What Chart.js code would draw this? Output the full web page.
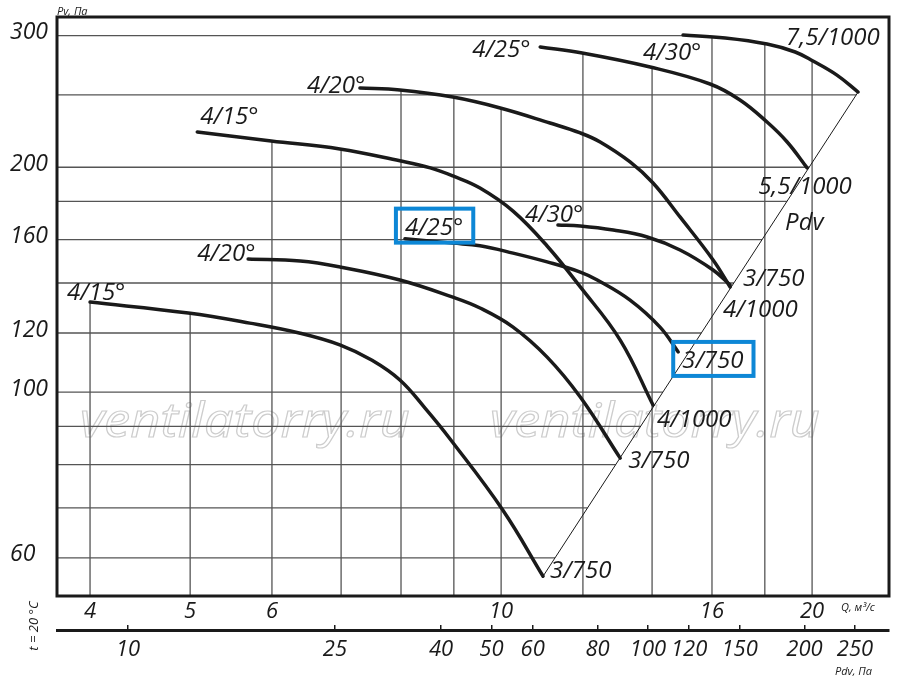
<!DOCTYPE html>
<html>
<head>
<meta charset="utf-8">
<script src="https://cdn.jsdelivr.net/npm/chart.js@4.4.1/dist/chart.umd.min.js"></script>
<style>
    html, body { margin: 0; padding: 0; background: #fff; }
    #wrap { width: 900px; height: 684px; }
</style>
</head>
<body>
<div id="wrap"><canvas id="chart"></canvas></div>
<script>
// Q, м3/с and Pv, Па (left to right)
const q15low = [4.00, 4.98, 5.71, 6.39, 6.99, 7.50, 7.98, 8.44, 8.94, 10.04, 10.98];
const p15low = [132.0, 127.6, 123.7, 119.9, 115.6, 110.3, 103.8, 95.2, 86.3, 69.5, 56.7];
const q20low = [5.69, 6.39, 6.98, 7.98, 8.98, 9.54, 10.27, 11.08, 11.93, 13.04];
const p20low = [150.7, 149.8, 147.1, 141.3, 134.0, 129.6, 122.2, 111.4, 98.5, 81.6];
const q25low = [8.07, 8.98, 9.54, 10.27, 11.08, 11.93, 12.39, 13.33, 14.25, 14.84];
const p25low = [160.5, 158.3, 157.0, 153.5, 149.4, 144.8, 141.3, 132.8, 122.2, 113.2];
const q30low = [11.35, 11.93, 12.84, 13.85, 14.90, 16.04, 16.66];
const p30low = [167.4, 166.9, 164.8, 161.3, 155.0, 145.7, 139.1];
const q15up = [5.08, 5.99, 6.98, 7.98, 8.54, 8.98, 9.54, 10.27, 11.08, 11.93, 13.04, 14.03];
const p15up = [223.0, 216.9, 211.6, 204.0, 199.6, 194.7, 187.6, 174.7, 156.9, 138.3, 117.4, 96.1];
const q20up = [7.30, 7.98, 8.98, 9.98, 11.15, 11.93, 12.47, 13.33, 14.03, 14.90, 16.04, 16.66];
const p20up = [255.3, 253.8, 248.3, 240.1, 229.2, 222.3, 216.2, 203.3, 190.5, 171.6, 150.3, 138.3];
const q25up = [10.91, 11.98, 13.94, 15.93, 17.03, 18.09, 18.92, 19.78];
const p25up = [289.7, 284.4, 272.4, 258.5, 246.1, 229.9, 216.2, 199.6];
const q30up = [15.00, 16.48, 18.09, 19.26, 20.04, 21.14, 22.16];
const p30up = [300.6, 297.9, 292.4, 285.3, 277.5, 265.7, 252.2];
// dynamic pressure line Pdv
const qPdv = [10.98, 22.16];
const pPdv = [56.7, 252.2];

// axis ticks
const qTicks = [4, 5, 6, 10, 16, 20];
const pTicks = [60, 100, 120, 160, 200, 300];
const pdvTicks = [10, 25, 40, 50, 60, 80, 100, 120, 150, 200, 250];

// grid: vertical lines start at the upper envelope, horizontal lines stop at Pdv
const gridQ = [4, 5, 6, 7, 8, 9, 10, 12, 14, 16, 18, 20];
const gridQTop = [132.0, 127.6, 216.9, 212.0, 253.8, 248.3, 240.1, 284.4, 272.4, 298.5, 292.6, 277.0];
const gridP = [300, 250, 200, 180, 160, 140, 120, 100, 90, 80, 70, 60];

const Q_MIN = 3.716, Q_MAX = 23.74;
const P_MIN = 53.35, P_MAX = 317.8;
const PDV_MIN = 7.302, PDV_MAX = 290.7;

const FONT = '"Open Sans", "Liberation Sans", sans-serif';
const INK = '#1a1a1a';

function pts(qs, ps) {
    return qs.map((q, i) => ({ x: q, y: ps[i] }));
}

// Q where the Pdv line reaches pressure p (straight line on log-log)
function pdvQAt(p) {
    const k = (Math.log10(pPdv[1]) - Math.log10(pPdv[0])) / (Math.log10(qPdv[1]) - Math.log10(qPdv[0]));
    return Math.pow(10, Math.log10(qPdv[0]) + (Math.log10(p) - Math.log10(pPdv[0])) / k);
}

const curves = [
    pts(q15low, p15low), pts(q20low, p20low), pts(q25low, p25low), pts(q30low, p30low),
    pts(q15up, p15up), pts(q20up, p20up), pts(q25up, p25up), pts(q30up, p30up),
    pts(qPdv, pPdv)
];

// [text, curve, end, dx, dy, boxed]
const notes = [
    ['4/15°', 0, 'start', -23, -2],
    ['4/20°', 1, 'start', -51, 2],
    ['4/25°', 2, 'start', 0, -4, true],
    ['4/30°', 3, 'start', -33, -3],
    ['4/15°', 4, 'start', 3, -8],
    ['4/20°', 5, 'start', -53, 5],
    ['4/25°', 6, 'start', -68, 10],
    ['4/30°', 7, 'start', -40, 25],
    ['7,5/1000', 7, 'end', -72, -47],
    ['5,5/1000', 6, 'end', -49, 26],
    ['3/750', 3, 'end', 13, 1],
    ['4/1000', 5, 'end', -7, 30],
    ['3/750', 2, 'end', 4, 16, true],
    ['4/1000', 4, 'end', 4, 22],
    ['3/750', 1, 'end', 8, 10],
    ['3/750', 0, 'end', 7, 2],
    ['Pdv', 8, 'end', -73, 138]
];

const datasets = [];
curves.forEach((c, i) => {
    const isPdv = i === curves.length - 1;
    datasets.push({
        data: c,
        borderColor: INK,
        borderWidth: isPdv ? 1 : 3.5,
        borderCapStyle: 'round',
        borderJoinStyle: 'round',
        pointRadius: 0,
        tension: isPdv ? 0 : 0.4,
        order: 1
    });
});
gridQ.forEach((q, i) => {
    datasets.push({
        data: [{ x: q, y: gridQTop[i] }, { x: q, y: P_MIN }],
        borderColor: '#555', borderWidth: 1.3, pointRadius: 0, order: 10
    });
});
gridP.forEach(p => {
    const qEnd = p === 300 ? q30up[0] : Math.min(pdvQAt(p), Q_MAX);
    datasets.push({
        data: [{ x: Q_MIN, y: p }, { x: qEnd, y: p }],
        borderColor: '#555', borderWidth: 1.3, pointRadius: 0, order: 10
    });
});

function text(ctx, str, x, y, size, align) {
    ctx.font = 'italic ' + size + 'px ' + FONT;
    ctx.textAlign = align || 'left';
    ctx.textBaseline = 'alphabetic';
    ctx.fillText(str, x, y);
}

const overlay = {
    id: 'overlay',
    beforeDatasetsDraw(chart) {
        const ctx = chart.ctx;
        ctx.save();
        ctx.font = 'italic 48px ' + FONT;
        ctx.strokeStyle = '#cdcdcd';
        ctx.lineWidth = 1.2;
        [80, 490].forEach(x => {
            const w = ctx.measureText('ventilatorry.ru').width;
            ctx.save();
            ctx.translate(x, 437);
            ctx.scale(330 / w, 1);
            ctx.strokeText('ventilatorry.ru', 0, 0);
            ctx.restore();
        });
        ctx.restore();
    },
    afterDatasetsDraw(chart) {
        const { ctx, chartArea: a, scales } = chart;
        ctx.save();
        ctx.strokeStyle = INK;
        ctx.lineWidth = 3;
        ctx.strokeRect(a.left, a.top, a.right - a.left, a.bottom - a.top);

        ctx.fillStyle = INK;
        notes.forEach(n => {
            const c = curves[n[1]];
            const p = n[2] === 'start' ? c[0] : c[c.length - 1];
            const x = scales.x.getPixelForValue(p.x) + n[3];
            const y = scales.y.getPixelForValue(p.y) + n[4];
            text(ctx, n[0], x, y, 24);
            if (n[5]) {
                const w = ctx.measureText(n[0]).width;
                ctx.strokeStyle = '#0d87d6';
                ctx.lineWidth = 4;
                ctx.strokeRect(x - 9, y - 26, w + 19, 34);
            }
        });

        text(ctx, 'Pv, Па', a.left, 15, 11);
        text(ctx, 'Q, м³/с', 841, 611, 11);
        text(ctx, 'Pdv, Па', 835, 675, 11);
        ctx.save();
        ctx.translate(38, 626);
        ctx.rotate(-Math.PI / 2);
        text(ctx, 't = 20 °C', 0, 0, 13, 'center');
        ctx.restore();
        ctx.restore();
    }
};

const tickFont = { family: FONT, size: 22, style: 'italic' };

new Chart(document.getElementById('chart'), {
    type: 'line',
    data: { datasets },
    options: {
        responsive: true,
        maintainAspectRatio: false,
        animation: false,
        layout: { padding: { left: 10, top: 17, right: 11, bottom: 0 } },
        plugins: { legend: { display: false }, tooltip: { enabled: false } },
        scales: {
            x: {
                type: 'logarithmic', position: 'bottom', weight: 0,
                min: Q_MIN, max: Q_MAX,
                grid: { display: false }, border: { display: false },
                afterBuildTicks: s => { s.ticks = qTicks.map(v => ({ value: v })); },
                afterFit: s => { s.height = 34; },
                ticks: { autoSkip: false, maxRotation: 0, padding: -5, color: INK, font: tickFont, callback: v => String(v) }
            },
            x2: {
                type: 'logarithmic', position: 'bottom', weight: 1,
                min: PDV_MIN, max: PDV_MAX,
                grid: { display: true, drawOnChartArea: false, drawTicks: true, tickLength: -5, color: INK, lineWidth: 1.5 },
                border: { display: true, color: INK, width: 3 },
                afterBuildTicks: s => { s.ticks = pdvTicks.map(v => ({ value: v })); },
                afterFit: s => { s.height = 54; },
                ticks: { autoSkip: false, maxRotation: 0, padding: 12, color: INK, font: tickFont, callback: v => String(v) }
            },
            y: {
                type: 'logarithmic', position: 'left',
                min: P_MIN, max: P_MAX,
                grid: { display: false }, border: { display: false },
                afterBuildTicks: s => { s.ticks = pTicks.map(v => ({ value: v })); },
                afterFit: s => { s.width = 47; },
                ticks: { autoSkip: false, crossAlign: 'far', padding: 0, labelOffset: -3, color: INK, font: { family: FONT, size: 23, style: 'italic' }, callback: v => String(v) }
            }
        }
    },
    plugins: [overlay]
});
</script>
</body>
</html>
